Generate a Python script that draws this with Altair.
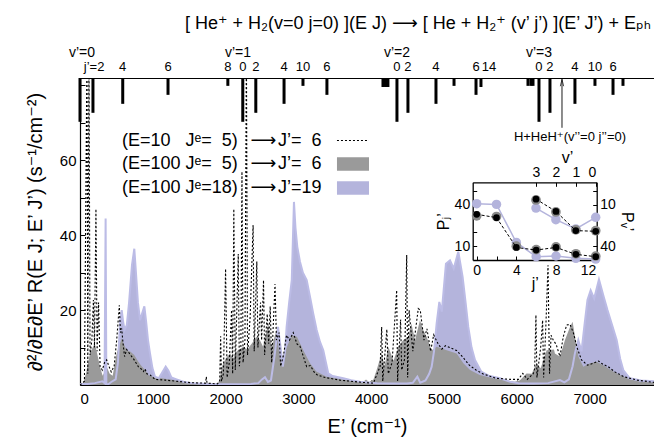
import altair as alt
import pandas as pd

FONT = "Liberation Sans, DejaVu Sans, sans-serif"
XMAX = 7885
YMAX = 82
W, H = 574, 307
LAV = "#b4b4dc"
LAV_LINE = "#bcbce6"
GRAY = "#9a9a9a"

# ---- main spectra (E' in cm^-1, rate) ----
lav_E = [0, 102, 204, 306, 337, 352, 362, 388, 429, 490, 521, 551, 573, 592, 612, 643, 674, 714, 746, 765, 796, 825, 852, 884, 908, 934, 961, 995, 1030, 1082, 1133, 1177, 1215, 1255, 1327, 1429, 1531, 1735, 1939, 2143, 2347, 2449, 2500, 2541, 2582, 2623, 2674, 2720, 2756, 2786, 2817, 2838, 2873, 2909, 2939, 2960, 2985, 3021, 3062, 3114, 3160, 3205, 3251, 3297, 3342, 3378, 3411, 3470, 3617, 3725, 3846, 3980, 4082, 4287, 4491, 4572, 4634, 4674, 4746, 4797, 4831, 4863, 4899, 4936, 4970, 5027, 5083, 5134, 5197, 5256, 5297, 5334, 5379, 5426, 5511, 5613, 5769, 5899, 6022, 6226, 6430, 6593, 6654, 6716, 6767, 6799, 6845, 6889, 6930, 6971, 7015, 7063, 7129, 7195, 7246, 7303, 7372, 7420, 7463, 7552, 7706, 7885]
lav_R = [0.3, 0.3, 0.5, 1.0, 0.5, 44.5, 0.3, 0.2, 0.8, 1.5, 6, 17, 20, 17, 14.7, 16, 22, 32, 36.4, 31, 22, 17.3, 19, 21, 17, 12, 8.5, 4.5, 2.2, 1.8, 3.5, 4.9, 3.8, 2, 1.5, 0.8, 0.5, 0.3, 0.2, 0.2, 0.3, 0.5, 1.5, 2.1, 0.8, 1.2, 8, 15.5, 10, 4.9, 9, 15.5, 22, 28, 48.9, 42, 36.9, 33, 30, 28, 23.5, 19, 14.7, 11.5, 9.3, 6, 3.1, 2.4, 1.8, 1.3, 0.9, 0.6, 0.5, 0.4, 0.4, 0.6, 2.2, 0.6, 1.2, 3, 4.9, 9, 16.4, 22.2, 19.6, 32.4, 33.3, 31.1, 35.6, 28.9, 22, 15.5, 10, 6.7, 3.6, 2.5, 1.8, 0.9, 0.5, 0.4, 0.5, 1.3, 0.7, 1.5, 5, 8.5, 12, 9, 16, 22.7, 25.3, 23.1, 28.2, 23.5, 20, 16.4, 12, 7, 4, 1.8, 1.2, 1.0]

gray_E = [0, 41, 82, 112, 138, 174, 204, 240, 275, 311, 337, 366, 408, 449, 504, 541, 573, 612, 641, 694, 745, 801, 847, 893, 949, 1000, 1123, 1259, 1449, 1633, 1758, 1837, 1898, 1923, 1949, 2000, 2061, 2102, 2153, 2243, 2296, 2358, 2427, 2470, 2515, 2586, 2633, 2674, 2702, 2747, 2817, 2908, 2980, 3067, 3160, 3246, 3388, 3618, 3892, 3929, 3970, 4031, 4075, 4144, 4184, 4235, 4307, 4372, 4441, 4510, 4552, 4603, 4670, 4715, 4761, 4831, 4899, 5037, 5174, 5266, 5358, 5491, 5675, 5909, 5971, 6044, 6134, 6205, 6273, 6328, 6410, 6511, 6524, 6593, 6662, 6731, 6767, 6799, 6845, 6914, 7005, 7097, 7188, 7325, 7508, 7690, 7885]
gray_R = [0, 0.5, 3, 6, 8.5, 10, 11, 8, 4.9, 2.5, 3.5, 4.9, 3, 2.5, 8.5, 10.5, 12.4, 10.5, 9.3, 8.9, 8, 6.2, 5, 4, 2.5, 2.2, 1.8, 1.4, 0.7, 0.5, 0.5, 0.3, 0.5, 2, 4.9, 7, 8.5, 7, 9, 10.2, 9.5, 11, 12.9, 12, 10.2, 16.4, 10, 13, 14.7, 6.7, 8.9, 13.3, 12.9, 9.3, 5.8, 3.6, 2.2, 1.4, 0.9, 1.5, 0.8, 1.5, 4, 8.5, 5, 10.2, 6.5, 10.2, 12, 12.9, 16.4, 12, 17.3, 14.7, 12.9, 9.3, 10.2, 9.3, 8.4, 5.8, 4, 2.7, 1.8, 1.1, 0.9, 1.3, 3.1, 3, 5.8, 4.5, 9.3, 9.5, 8.4, 7.6, 12, 15.5, 16.9, 13, 7.6, 4.9, 5.8, 6.2, 5.3, 3.6, 1.8, 0.9, 0.7]

dot_E = [0, 61, 96, 107, 123, 138, 163, 184, 199, 219, 235, 255, 276, 306, 337, 366, 398, 429, 469, 504, 540, 556, 572, 592, 612, 641, 694, 735, 801, 847, 871, 893, 919, 961, 1031, 1174, 1327, 1531, 1725, 1735, 1745, 1888, 1919, 1932, 1944, 1970, 2000, 2021, 2051, 2082, 2097, 2113, 2133, 2174, 2189, 2210, 2225, 2240, 2266, 2286, 2301, 2337, 2378, 2393, 2429, 2444, 2480, 2495, 2521, 2536, 2572, 2592, 2613, 2633, 2679, 2699, 2735, 2756, 2796, 2837, 2878, 2929, 2980, 3021, 3062, 3113, 3164, 3215, 3256, 3368, 3572, 3878, 4031, 4082, 4123, 4144, 4159, 4215, 4235, 4287, 4350, 4363, 4404, 4419, 4460, 4488, 4501, 4521, 4572, 4647, 4674, 4725, 4766, 4817, 4858, 4919, 4970, 5021, 5083, 5174, 5256, 5348, 5440, 5532, 5715, 5919, 6022, 6083, 6144, 6226, 6246, 6263, 6277, 6328, 6355, 6369, 6399, 6429, 6450, 6471, 6501, 6542, 6593, 6639, 6685, 6731, 6777, 6828, 6889, 6971, 7052, 7124, 7185, 7256, 7348, 7471, 7655, 7885]
dot_R = [0, 1, 90, 3, 90, 8, 12, 22.7, 10, 47, 9, 22, 5, 4, 6, 6.7, 5, 3.5, 5, 12, 21.3, 14, 15.1, 11, 7.6, 9.5, 8, 7, 4.9, 4.2, 3.6, 4.3, 3, 2.7, 1.5, 1.3, 1.0, 0.6, 0.5, 2.2, 0.5, 0.3, 1, 13, 1, 3, 31, 2, 6, 20, 3, 47, 4, 35, 5, 10, 57, 6, 12, 90, 8, 18, 42.7, 9, 33, 10, 22, 12, 28, 8, 19, 11, 21, 6, 27, 12, 14, 5, 8, 13.3, 12, 14, 11, 10.4, 8, 4.9, 5.2, 3.5, 2.7, 2, 1.3, 0.7, 0.5, 3, 5, 15.5, 1, 14.9, 3, 6, 25.3, 1, 17.5, 4, 7, 34.7, 2, 20, 9, 20.4, 20, 12, 15, 9, 13.4, 11, 9.6, 10.5, 10, 9.2, 7.5, 5.3, 4, 3, 1.8, 1.5, 1.5, 3.1, 1.5, 3, 4.4, 18.7, 2, 10, 17.3, 2, 15.5, 32, 3, 13.3, 12, 10.8, 7.6, 12.9, 16, 16.2, 14, 10, 6.7, 5.3, 5.8, 6.4, 5.5, 4.9, 3.5, 2.2, 1.3, 0.7]

# ---- H2+ (v' j') levels: stick positions and depths ----
stick_E = [0, 178, 587, 1209, 2031, 2236, 2415, 2803, 3063, 3392, 4162, 4197, 4230, 4354, 4505, 4890, 5138, 5440, 5508, 6154, 6195, 6223, 6305, 6456, 6799, 7074, 7322, 7459]
stick_len = [11.7, 9.3, 6.9, 4.5, 2.1, 11.7, 9.3, 6.9, 2.1, 4.5, 2.4, 2.4, 2.4, 11.7, 9.3, 6.9, 2.1, 4.5, 2.4, 2.1, 2.1, 2.1, 11.7, 9.3, 6.9, 2.1, 4.5, 2.1]

jlab_E = [194, 587, 1209, 2031, 2236, 2415, 2803, 3063, 3392, 4354, 4505, 4890, 5440, 5618, 6305, 6456, 6799, 7074, 7322]
jlab_txt = ["j’=2", "4", "6", "8", "0", "2", "4", "10", "6", "0", "2", "4", "6", "14", "0", "2", "4", "10", "6"]
vlab_E = [28, 2170, 4354, 6305]
vlab_txt = ["v’=0", "v’=1", "v’=2", "v’=3"]
JLAB_Y = 84.9
VLAB_Y = 88.6

# H+HeH+ threshold
thr_E = [6621]
thr_low = [68.7]
thr_label = ["H+HeH⁺(v’’=0 j’’=0)"]
thr_label_E = [6731]
thr_label_y = [66.3]

# ---- legend ----
FS = "\u2007"  # figure space keeps the digits aligned
leg_left = [f"(E=10{FS} J\u1d49={FS}5)", f"(E=100 J\u1d49={FS}5)", "(E=100 J\u1d49=18)"]
leg_right = [f"J’={FS}6", f"J’={FS}6", "J’=19"]
leg_y = [65.3, 58.9, 52.5]
leg_left_E = 577
leg_arrow_E = 2521
leg_right_E = 2720
leg_sample_E = [3530, 3970]

# ---- inset ----
j_vals = [0, 2, 4, 6, 8, 10, 12]
pj_lav = [40.8, 40.3, 12.7, 2.4, 2.9, 1.2, 0.7]
pj_e10 = [33.1, 30.7, 9.1, 7.2, 9.1, 4.1, 2.4]
pj_e100 = [32.0, 31.5, 10.0, 7.5, 9.5, 4.5, 2.8]
v_vals = [3, 2, 1, 0]
pv_lav = [12.4, 20.8, 27.5, 19.1]
pv_e10 = [5.9, 14.8, 28.7, 29.2]
pv_e100 = [6.5, 15.2, 28.2, 28.8]

# ---------------- scales ----------------
XS = alt.Scale(domain=[0, XMAX], nice=False, zero=False)
YS = alt.Scale(domain=[0, YMAX], nice=False, zero=False)
BOX_X = [392.7, 516.7]
BOX_Y = [182, 104.3]
XI = alt.Scale(domain=[-0.4, 12.1], range=BOX_X, nice=False, zero=False)
YI = alt.Scale(domain=[0, 56.3], range=BOX_Y, nice=False, zero=False)
XV = alt.Scale(domain=[-0.05, 6.18], range=BOX_X, reverse=True, nice=False, zero=False)
YV = alt.Scale(domain=[-6.3, 50], range=[104.3, 182], nice=False, zero=False)

lav_df = pd.DataFrame({"E": lav_E, "R": lav_R})
gray_df = pd.DataFrame({"E": gray_E, "R": gray_R})
dot_df = pd.DataFrame({"E": dot_E, "R": dot_R})
stick_df = pd.DataFrame({"E": stick_E, "L": stick_len})
jlab_df = pd.DataFrame({"E": jlab_E, "t": jlab_txt})
vlab_df = pd.DataFrame({"E": vlab_E, "t": vlab_txt})
thr_df = pd.DataFrame({"E": thr_E, "lo": thr_low})
thrlab_df = pd.DataFrame({"E": thr_label_E, "y": thr_label_y, "t": thr_label})
leg_df = pd.DataFrame({"l": leg_left, "r": leg_right, "y": leg_y})


def mx(axis=None, field="E"):
    return alt.X(f"{field}:Q", scale=XS, axis=axis)


def my(field="R", axis=None):
    return alt.Y(f"{field}:Q", scale=YS, axis=axis)


# main axes
ax_bottom = alt.Axis(orient="bottom", values=list(range(0, 8000, 1000)), format="d", ticks=False,
                     labelFontSize=15, labelPadding=6, title="E’ (cm⁻¹)", titleFontSize=20,
                     titlePadding=10, domainWidth=1.2)
ax_left = alt.Axis(orient="left", values=list(range(10, 90, 10)), ticks=False,
                   labelExpr="(datum.value % 20 == 0 && datum.value < 70) ? datum.label : ''",
                   labelFontSize=15, labelPadding=4,
                   title="∂²/∂E∂E’ R(E J; E’ J’)  (s⁻¹/cm⁻²)", titleFontSize=20, titlePadding=14,
                   domainWidth=1.2)
ax_xtick_in = alt.Axis(orient="top", offset=-H, values=list(range(0, 8000, 1000)), labels=False,
                       domain=False, ticks=True, tickSize=5, title=None)
ax_ytick_in = alt.Axis(orient="right", offset=-W, values=list(range(10, 90, 10)), labels=False,
                       domain=False, ticks=True, tickSize=5, title=None)
ax_top_line = alt.Axis(orient="top", offset=0, labels=False, ticks=False, domain=True,
                       domainWidth=1.2, title=None)

area_lav = alt.Chart(lav_df).mark_area(color=LAV, clip=True).encode(
    x=mx(ax_bottom), y=my(axis=ax_left))
area_gray = alt.Chart(gray_df).mark_area(color=GRAY, clip=True).encode(
    x=mx(ax_xtick_in), y=my(axis=ax_ytick_in))
line_lav = alt.Chart(lav_df).mark_line(color=LAV_LINE, strokeWidth=2, clip=True).encode(
    x=mx(ax_top_line), y=my())
line_dot = alt.Chart(dot_df).mark_line(color="black", strokeWidth=1.1, strokeDash=[2, 2], clip=True).encode(
    x=mx(), y=my())

sticks = alt.Chart(stick_df).mark_rule(color="black", strokeWidth=3).transform_calculate(
    top=f"{YMAX}", bot=f"{YMAX} - datum.L").encode(
    x=mx(), y=my("top"), y2="bot:Q")

jlabels = alt.Chart(jlab_df).mark_text(font=FONT, fontSize=13, baseline="middle").transform_calculate(
    y=f"{JLAB_Y}").encode(x=mx(), y=my("y"), text="t:N")
vlabels = alt.Chart(vlab_df).mark_text(font=FONT, fontSize=14, baseline="middle").transform_calculate(
    y=f"{VLAB_Y}").encode(x=mx(), y=my("y"), text="t:N")

thr_rule = alt.Chart(thr_df).mark_rule(color="black", strokeWidth=0.9).transform_calculate(
    top=f"{YMAX}").encode(x=mx(), y=my("lo"), y2="top:Q")
thr_head = alt.Chart(thr_df).mark_point(shape="M-0.5,1L0,-1L0.5,1", filled=False, color="black",
                                        strokeWidth=1, size=45).transform_calculate(
    yh=f"{YMAX} - 1.3").encode(x=mx(), y=my("yh"))
thr_text = alt.Chart(thrlab_df).mark_text(font=FONT, fontSize=13, baseline="middle").encode(
    x=mx(), y=my("y"), text="t:N")

leg_l = alt.Chart(leg_df).mark_text(font=FONT, fontSize=18, align="left", baseline="middle").transform_calculate(
    x=f"{leg_left_E}").encode(x=mx(field="x"), y=my("y"), text="l:N")
leg_a = alt.Chart(leg_df).mark_text(font=FONT, fontSize=18, align="center", baseline="middle").transform_calculate(
    x=f"{leg_arrow_E}", a="'⟶'").encode(x=mx(field="x"), y=my("y"), text="a:N")
leg_r = alt.Chart(leg_df).mark_text(font=FONT, fontSize=18, align="left", baseline="middle").transform_calculate(
    x=f"{leg_right_E}").encode(x=mx(field="x"), y=my("y"), text="r:N")

samp_dot = alt.Chart(pd.DataFrame({"E": leg_sample_E, "R": [leg_y[0]] * 2})).mark_line(
    color="black", strokeWidth=1.1, strokeDash=[2, 2]).encode(x=mx(), y=my())
samp_gray = alt.Chart(pd.DataFrame({"x1": [leg_sample_E[0]], "x2": [leg_sample_E[1]],
                                    "y1": [leg_y[1] - 1.7], "y2": [leg_y[1] + 1.9]})).mark_rect(color=GRAY).encode(
    x=mx(field="x1"), x2="x2:Q", y=my("y1"), y2="y2:Q")
samp_lav = alt.Chart(pd.DataFrame({"x1": [leg_sample_E[0]], "x2": [leg_sample_E[1]],
                                   "y1": [leg_y[2] - 1.7], "y2": [leg_y[2] + 1.9]})).mark_rect(color=LAV).encode(
    x=mx(field="x1"), x2="x2:Q", y=my("y1"), y2="y2:Q")

# ---------------- inset ----------------
pj_df = pd.DataFrame({"j": j_vals, "lav": pj_lav, "e10": pj_e10, "e100": pj_e100})
pv_df = pd.DataFrame({"v": v_vals, "lav": pv_lav, "e10": pv_e10, "e100": pv_e100})

ix_bottom = alt.Axis(orient="bottom", offset=-(H - BOX_Y[0]), values=[0, 4, 8, 12], ticks=False,
                     labelFontSize=14, labelPadding=3, title="j’", titleFontSize=16, titlePadding=-2,
                     domainWidth=1.3)
iy_left = alt.Axis(orient="left", offset=-BOX_X[0], values=[10, 40], ticks=False, labelFontSize=14,
                   labelPadding=3, title="Pⱼ’", titleFontSize=16, titlePadding=3, domainWidth=1.3)
ix_tick = alt.Axis(orient="top", offset=-BOX_Y[0], values=[0, 2, 4, 6, 8, 10, 12], labels=False,
                   domain=False, tickSize=4, title=None)
iy_tick = alt.Axis(orient="right", offset=BOX_X[0] - W, values=[10, 20, 30, 40, 50], labels=False,
                   domain=False, tickSize=4, title=None)
vx_top = alt.Axis(orient="top", offset=-BOX_Y[1], values=[0, 1, 2, 3], ticks=False, labelFontSize=14,
                  labelPadding=3, title="v’", titleFontSize=16, titlePadding=0, titleX=487,
                  domainWidth=1.3)
vy_right = alt.Axis(orient="right", offset=BOX_X[1] - W, values=[10, 40], ticks=False, labelFontSize=14,
                    labelPadding=3, title="Pᵥ’", titleFontSize=16, titlePadding=3, domainWidth=1.3)
vx_tick = alt.Axis(orient="bottom", offset=BOX_Y[1] - H, values=[0, 1, 2, 3], labels=False,
                   domain=False, tickSize=4, title=None)
vy_tick = alt.Axis(orient="left", offset=-BOX_X[1], values=[0, 10, 20, 30, 40], labels=False,
                   domain=False, tickSize=4, title=None)

pj_lav_line = alt.Chart(pj_df).mark_line(color=LAV, strokeWidth=1.5).encode(
    x=alt.X("j:Q", scale=XI, axis=ix_bottom), y=alt.Y("lav:Q", scale=YI, axis=iy_left))
pj_lav_pts = alt.Chart(pj_df).mark_circle(color=LAV, size=90, opacity=1).encode(
    x=alt.X("j:Q", scale=XI, axis=ix_tick), y=alt.Y("lav:Q", scale=YI, axis=iy_tick))
pv_lav_line = alt.Chart(pv_df).mark_line(color=LAV, strokeWidth=1.5).encode(
    x=alt.X("v:Q", scale=XV, axis=vx_top), y=alt.Y("lav:Q", scale=YV, axis=vy_right))
pv_lav_pts = alt.Chart(pv_df).mark_circle(color=LAV, size=90, opacity=1).encode(
    x=alt.X("v:Q", scale=XV, axis=vx_tick), y=alt.Y("lav:Q", scale=YV, axis=vy_tick))

pj_gray_pts = alt.Chart(pj_df).mark_circle(color="#8a8a8a", size=95, opacity=1).encode(
    x=alt.X("j:Q", scale=XI, axis=None), y=alt.Y("e100:Q", scale=YI, axis=None))
pv_gray_pts = alt.Chart(pv_df).mark_circle(color="#8a8a8a", size=95, opacity=1).encode(
    x=alt.X("v:Q", scale=XV, axis=None), y=alt.Y("e100:Q", scale=YV, axis=None))
pj_blk_line = alt.Chart(pj_df).mark_line(color="black", strokeWidth=1, strokeDash=[3, 2]).encode(
    x=alt.X("j:Q", scale=XI, axis=None), y=alt.Y("e10:Q", scale=YI, axis=None))
pv_blk_line = alt.Chart(pv_df).mark_line(color="black", strokeWidth=1, strokeDash=[3, 2]).encode(
    x=alt.X("v:Q", scale=XV, axis=None), y=alt.Y("e10:Q", scale=YV, axis=None))
pj_blk_pts = alt.Chart(pj_df).mark_circle(color="black", size=45, opacity=1).encode(
    x=alt.X("j:Q", scale=XI, axis=None), y=alt.Y("e10:Q", scale=YI, axis=None))
pv_blk_pts = alt.Chart(pv_df).mark_circle(color="black", size=45, opacity=1).encode(
    x=alt.X("v:Q", scale=XV, axis=None), y=alt.Y("e10:Q", scale=YV, axis=None))

TITLE = "[ He⁺ + H₂(v=0 j=0) ](E J) ⟶ [ He + H₂⁺ (v’ j’) ](E’ J’)  + Eₚₕ"

chart = alt.layer(
    area_lav, area_gray, line_lav, line_dot, sticks, jlabels, vlabels,
    thr_rule, thr_head, thr_text, leg_l, leg_a, leg_r, samp_dot, samp_gray, samp_lav,
    pj_lav_line, pj_lav_pts, pv_lav_line, pv_lav_pts,
    pj_gray_pts, pv_gray_pts, pj_blk_line, pv_blk_line, pj_blk_pts, pv_blk_pts,
).resolve_scale(x="independent", y="independent").properties(
    width=W, height=H,
    autosize=alt.AutoSizeParams(type="none"),
    padding={"left": 80, "top": 78, "right": 0, "bottom": 58},
    title=alt.TitleParams(text=TITLE, anchor="end", fontSize=18, font=FONT, fontWeight="normal",
                          offset=15, baseline="bottom", dx=-3, dy=20, color="black"),
).configure_view(stroke=None).configure_axis(
    grid=False, labelFont=FONT, titleFont=FONT, labelColor="black", titleColor="black",
    domainColor="black", tickColor="black", titleFontWeight="normal"
)

chart.save("out.html", embed_options={"renderer": "svg", "actions": False})
